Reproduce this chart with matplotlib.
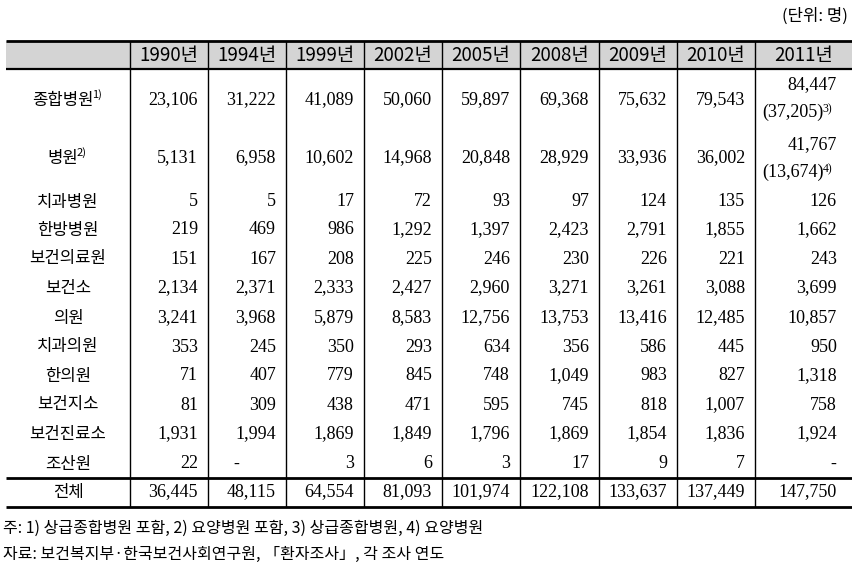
import matplotlib
matplotlib.use("Agg")
import matplotlib.pyplot as plt
from matplotlib.patches import Rectangle

# ── Data ──────────────────────────────────────────────────────────────────────
years = ["1990년", "1994년", "1999년", "2002년", "2005년",
         "2008년", "2009년", "2010년", "2011년"]

labels = ["종합병원", "병원", "치과병원", "한방병원", "보건의료원", "보건소",
          "의원", "치과의원", "한의원", "보건지소", "보건진료소", "조산원"]
label_sups = ["1)", "2)", None, None, None, None, None, None, None, None, None, None]

general_hosp = [23106, 31222, 41089, 50060, 59897, 69368, 75632, 79543, 84447]
hospital     = [5131, 6958, 10602, 14968, 20848, 28929, 33936, 36002, 41767]
dental_hosp  = [5, 5, 17, 72, 93, 97, 124, 135, 126]
oriental_hosp = [219, 469, 986, 1292, 1397, 2423, 2791, 1855, 1662]
health_med   = [151, 167, 208, 225, 246, 230, 226, 221, 243]
health_ctr   = [2134, 2371, 2333, 2427, 2960, 3271, 3261, 3088, 3699]
clinic       = [3241, 3968, 5879, 8583, 12756, 13753, 13416, 12485, 10857]
dental_clin  = [353, 245, 350, 293, 634, 356, 586, 445, 950]
oriental_clin = [71, 407, 779, 845, 748, 1049, 983, 827, 1318]
health_sub   = [81, 309, 438, 471, 595, 745, 818, 1007, 758]
health_post  = [1931, 1994, 1869, 1849, 1796, 1869, 1854, 1836, 1924]
midwifery    = [22, None, 3, 6, 3, 17, 9, 7, None]
total        = [36445, 48115, 64554, 81093, 101974, 122108, 133637, 137449, 147750]

# 2011 sub-values shown in parentheses (상급종합병원, 요양병원)
sub_2011 = {0: (37205, "3)"), 1: (13674, "4)")}

values = [general_hosp, hospital, dental_hosp, oriental_hosp, health_med,
          health_ctr, clinic, dental_clin, oriental_clin, health_sub,
          health_post, midwifery]

unit_text = "(단위: 명)"
notes = ["주: 1) 상급종합병원 포함, 2) 요양병원 포함, 3) 상급종합병원, 4) 요양병원",
         "자료: 보건복지부·한국보건사회연구원, 「환자조사」, 각 조사 연도"]

# ── Layout (pixel-like coordinates) ──────────────────────────────────────────
W, H = 853, 570
col_edges = [6, 130, 208, 286, 364, 442, 520, 599, 677, 755, 853]
row_y = [100, 158, 202, 230, 259, 288, 318, 347, 376, 405, 434, 464]
total_y = 492
top_y, head_y, sum_y, bot_y = 41, 68.5, 478, 507

KR = "Noto Sans CJK KR"
NUM = "Liberation Serif"
HEAD_BG = "#d4d4d4"
LABEL_FS = 12
HEAD_FS = 13.5
NUM_FS = 13

fig = plt.figure(figsize=(W / 100, H / 100), dpi=100)
ax = fig.add_axes([0, 0, 1, 1])
ax.set_xlim(0, W)
ax.set_ylim(H, 0)
ax.axis("off")

# header band and rules
ax.add_patch(Rectangle((col_edges[0], top_y), W - col_edges[0], head_y - top_y,
                       facecolor=HEAD_BG, edgecolor="none", zorder=0))
for y, lw in [(top_y, 2.0), (head_y, 1.6), (sum_y, 2.0), (bot_y, 2.0)]:
    ax.hlines(y, col_edges[0], W, color="black", linewidth=lw, zorder=2)
for x in col_edges[1:-1]:
    ax.vlines(x, top_y, bot_y, color="black", linewidth=1.0, zorder=2)

ax.text(848, 16, unit_text, ha="right", va="center", fontsize=12, family=KR)

# header
for j, yr in enumerate(years):
    cx = (col_edges[j + 1] + col_edges[j + 2]) / 2
    ax.text(cx, 55, yr, ha="center", va="center", fontsize=HEAD_FS, family=KR)


def num_str(v):
    return "-" if v is None else f"{v:,}"


def right_edge(j):
    # right-aligned numbers sit a bit inside each column
    pad = 16 if j == len(years) - 1 else 10
    return col_edges[j + 2] - pad


label_cx = 68
for i, (lab, sup, vals) in enumerate(zip(labels, label_sups, values)):
    y = row_y[i]
    if sup:
        t = ax.text(label_cx - 5, y, lab, ha="center", va="center",
                    fontsize=LABEL_FS, family=KR)
        ax.annotate(sup, xy=(1, 1), xycoords=t, xytext=(-1.2, 1.5),
                    textcoords="offset points", ha="left", va="top",
                    fontsize=8, family=KR)
    else:
        ax.text(label_cx, y, lab, ha="center", va="center",
                fontsize=LABEL_FS, family=KR)

    for j, v in enumerate(vals):
        if v is None:
            dx = 236 if j == 1 else right_edge(j) - 4
            ax.text(dx, y, "-", ha="center", va="center", fontsize=NUM_FS, family=NUM)
            continue
        if j == len(years) - 1 and i in sub_2011:
            sv, ssup = sub_2011[i]
            y1, y2 = (85, 112) if i == 0 else (145, 172)
            ax.text(right_edge(j), y1, num_str(v), ha="right", va="center",
                    fontsize=NUM_FS, family=NUM)
            t = ax.text(right_edge(j) - 13, y2, f"({sv:,})", ha="right",
                        va="center", fontsize=NUM_FS, family=NUM)
            ax.annotate(ssup, xy=(1, 1), xycoords=t, xytext=(-1.0, 0),
                        textcoords="offset points", ha="left", va="top",
                        fontsize=8.5, family=NUM)
            continue
        ax.text(right_edge(j), y, num_str(v), ha="right", va="center",
                fontsize=NUM_FS, family=NUM)

# total row
ax.text(label_cx, total_y, "전체", ha="center", va="center",
        fontsize=LABEL_FS, family=KR)
for j, v in enumerate(total):
    ax.text(right_edge(j), total_y, num_str(v), ha="right", va="center",
            fontsize=NUM_FS, family=NUM)

# notes
for k, note in enumerate(notes):
    ax.text(3, 528 + k * 26, note, ha="left", va="center", fontsize=11.5,
            family=[KR, "DejaVu Sans"])

fig.savefig("out.png", dpi=100)
